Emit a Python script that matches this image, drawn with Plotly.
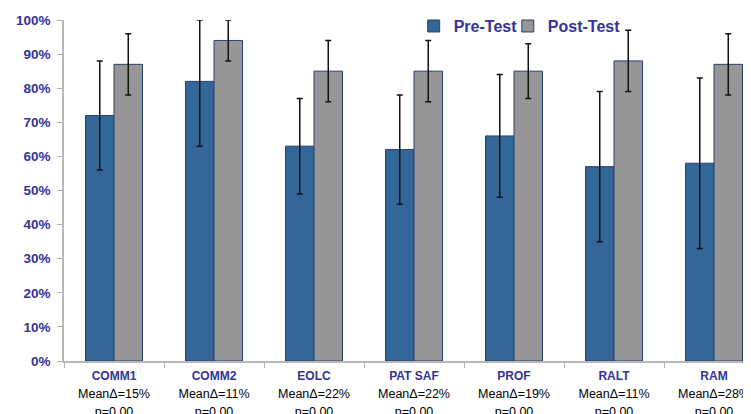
import plotly.graph_objects as go

categories = ["COMM1", "COMM2", "EOLC", "PAT SAF", "PROF", "RALT", "RAM"]
mean_delta = ["15%", "11%", "22%", "22%", "19%", "11%", "28%"]
p_values = ["0.00", "0.00", "0.00", "0.00", "0.00", "0.00", "0.00"]

pre_test = [0.72, 0.82, 0.63, 0.62, 0.66, 0.57, 0.58]
pre_err_plus = [0.16, 0.18, 0.14, 0.16, 0.18, 0.22, 0.25]
pre_err_minus = [0.16, 0.19, 0.14, 0.16, 0.18, 0.22, 0.25]

post_test = [0.87, 0.94, 0.85, 0.85, 0.85, 0.88, 0.87]
post_err_plus = [0.09, 0.06, 0.09, 0.09, 0.08, 0.09, 0.09]
post_err_minus = [0.09, 0.06, 0.09, 0.09, 0.08, 0.09, 0.09]

y_ticks = [i / 10 for i in range(11)]

NAVY = "#333399"

tick_text = [
    f"<span style='font-weight:bold;font-size:12px;color:{NAVY}'>{c}</span>"
    f"<br><span style='font-size:12.5px'>MeanΔ={m}</span>"
    f"<br><span style='font-size:12.5px'>p={p}</span>"
    for c, m, p in zip(categories, mean_delta, p_values)
]

fig = go.Figure()
fig.add_trace(go.Bar(
    name="Pre-Test", x=categories, y=pre_test, legend="legend",
    marker=dict(color="#336699", line=dict(color="#2a3f6e", width=1)),
    error_y=dict(type="data", symmetric=False, array=pre_err_plus, arrayminus=pre_err_minus,
                 color="#111111", thickness=1.5, width=3),
))
fig.add_trace(go.Bar(
    name="Post-Test", x=categories, y=post_test, legend="legend2",
    marker=dict(color="#969696", line=dict(color="#2a3f6e", width=1)),
    error_y=dict(type="data", symmetric=False, array=post_err_plus, arrayminus=post_err_minus,
                 color="#111111", thickness=1.5, width=3),
))

legend_font = dict(family="Liberation Sans, Arial, sans-serif", size=16, color=NAVY, weight="bold")

fig.update_layout(
    width=743, height=406,
    margin=dict(l=56, r=0, t=12, b=53, autoexpand=False),
    paper_bgcolor="white", plot_bgcolor="white",
    barmode="group", bargap=0.43, bargroupgap=0,
    showlegend=True,
    legend=dict(orientation="h", x=0.509, xanchor="left", y=1.032, yanchor="top",
                font=legend_font, bgcolor="rgba(0,0,0,0)", itemwidth=30),
    legend2=dict(orientation="h", x=0.646, xanchor="left", y=1.032, yanchor="top",
                 font=legend_font, bgcolor="rgba(0,0,0,0)", itemwidth=30),
    font=dict(family="Liberation Sans, Arial, sans-serif"),
)
fig.update_xaxes(
    type="category", range=[-0.5, 6.37],
    tickmode="array", tickvals=categories, ticktext=tick_text,
    tickson="boundaries", ticks="outside", ticklen=5, tickcolor="#b0b0b0",
    showline=True, linecolor="#b8b8b8", linewidth=1.5,
    showgrid=False, zeroline=False, automargin=False,
    tickfont=dict(family="Liberation Sans, Arial, sans-serif", size=14, color="black"),
)
fig.update_yaxes(
    range=[0, 1], tickmode="array", tickvals=y_ticks, tickformat=".0%",
    ticks="outside", ticklen=5, tickcolor="#b0b0b0", ticklabelstandoff=4,
    showline=True, linecolor="#b8b8b8", linewidth=1.5,
    showgrid=False, zeroline=False, automargin=False,
    tickfont=dict(family="Liberation Sans, Arial, sans-serif", size=13.5, color=NAVY, weight="bold"),
)

fig.write_html("out.html")
